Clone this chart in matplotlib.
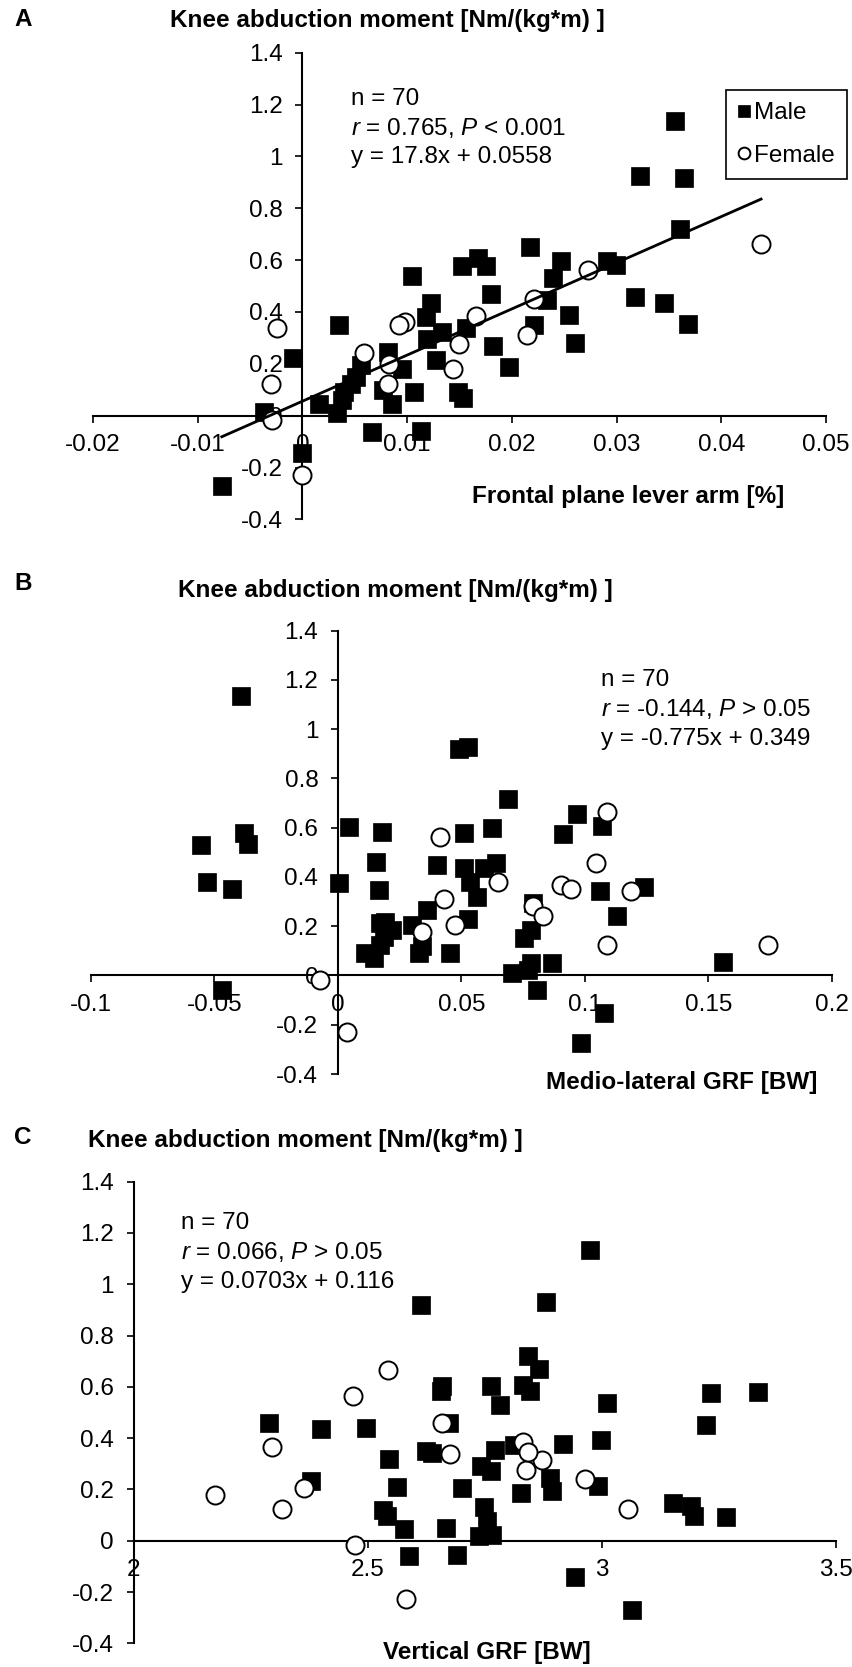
import numpy as np
import matplotlib.pyplot as plt
from matplotlib.ticker import FuncFormatter

plt.rcParams['font.family'] = ['Liberation Sans', 'DejaVu Sans']
plt.rcParams['axes.unicode_minus'] = False
plt.rcParams['mathtext.fontset'] = 'custom'
plt.rcParams['mathtext.it'] = 'Liberation Sans:italic'
plt.rcParams['mathtext.rm'] = 'Liberation Sans'

# ---- data ----
# A: frontal plane lever arm vs knee abduction moment
a_male_x = [0.0356, 0.0322, 0.0364, 0.0361, 0.0217, 0.0247, 0.0291, 0.0299, 0.0152, 0.0168,
            0.0175, 0.0105, 0.0239, 0.0180, 0.0318, 0.0345, 0.0368, 0.0255, 0.0260, 0.0234,
            0.0221, 0.0197, 0.0182, 0.0156, 0.0149, 0.0153, 0.0128, 0.0133, 0.0119, 0.0123,
            0.0118, 0.0107, 0.0113, 0.0082, 0.0095, 0.0077, 0.0086, 0.0066, 0.0056, 0.0051,
            0.0046, 0.0040, 0.0038, 0.0033, 0.0035, 0.0016, 0.0000, -0.0009, -0.0037, -0.0077]
a_male_y = [1.135, 0.926, 0.917, 0.720, 0.651, 0.596, 0.596, 0.583, 0.577, 0.609,
            0.577, 0.540, 0.530, 0.468, 0.458, 0.436, 0.355, 0.387, 0.281, 0.447,
            0.349, 0.186, 0.268, 0.340, 0.092, 0.067, 0.214, 0.323, 0.297, 0.435,
            0.381, 0.092, -0.058, 0.246, 0.182, 0.099, 0.044, -0.062, 0.195, 0.150,
            0.124, 0.092, 0.060, 0.009, 0.349, 0.044, -0.145, 0.224, 0.015, -0.270]
a_female_x = [0.0438, 0.0273, 0.0221, 0.0214, 0.0166, 0.0150, 0.0144, 0.0098, 0.0092, 0.0083,
              0.0082, 0.0059, 0.0000, -0.0024, -0.0030, -0.0029]
a_female_y = [0.663, 0.560, 0.451, 0.310, 0.383, 0.276, 0.181, 0.362, 0.349, 0.201,
              0.124, 0.240, -0.228, 0.340, 0.124, -0.017]

# B: medio-lateral GRF vs knee abduction moment
b_male_x = [-0.0393, 0.0492, 0.0525, 0.0690, 0.0970, -0.0552, -0.0380, -0.0364, -0.0530, -0.0430,
            -0.0468, 0.0003, 0.0046, 0.0180, 0.0155, 0.0165, 0.0169, 0.0192, 0.0219, 0.0185,
            0.0172, 0.0111, 0.0145, 0.0300, 0.0361, 0.0327, 0.0340, 0.0453, 0.0401, 0.0510,
            0.0510, 0.0534, 0.0564, 0.0526, 0.0624, 0.0590, 0.0640, 0.0911, 0.1070, 0.1060,
            0.1240, 0.1130, 0.1077, 0.0986, 0.1560, 0.0867, 0.0783, 0.0768, 0.0706, 0.0805,
            0.0755, 0.0783, 0.0790]
b_male_y = [1.133, 0.921, 0.928, 0.715, 0.655, 0.529, 0.580, 0.532, 0.379, 0.349,
            -0.058, 0.374, 0.604, 0.584, 0.462, 0.347, 0.212, 0.219, 0.185, 0.158,
            0.124, 0.091, 0.070, 0.205, 0.266, 0.091, 0.118, 0.093, 0.449, 0.577,
            0.435, 0.381, 0.320, 0.228, 0.597, 0.435, 0.455, 0.573, 0.607, 0.342,
            0.360, 0.243, -0.153, -0.273, 0.053, 0.050, 0.050, 0.023, 0.010, -0.058,
            0.152, 0.186, 0.295]
b_female_x = [0.1090, -0.0074, 0.0415, 0.1043, 0.1187, 0.0904, 0.0944, 0.1090, 0.1740, 0.0790,
              0.0832, 0.0650, 0.0476, 0.0431, 0.0340, 0.0039]
b_female_y = [0.665, -0.020, 0.564, 0.457, 0.342, 0.369, 0.349, 0.125, 0.125, 0.281,
              0.243, 0.380, 0.205, 0.311, 0.178, -0.231]

# C: vertical GRF vs knee abduction moment
c_male_x = [2.975, 2.614, 2.881, 2.842, 2.866, 2.659, 2.657, 2.763, 2.831, 2.846,
            2.782, 3.012, 3.234, 3.334, 3.223, 2.290, 2.401, 2.497, 2.673, 2.546,
            2.638, 2.918, 2.998, 2.772, 2.813, 2.743, 2.763, 2.378, 2.562, 2.702,
            2.532, 2.541, 2.577, 2.667, 2.589, 2.690, 2.749, 2.755, 2.737, 2.766,
            2.828, 2.889, 2.893, 2.992, 2.942, 3.065, 3.152, 3.190, 3.197, 3.266,
            2.625]
c_male_y = [1.134, 0.921, 0.930, 0.720, 0.668, 0.603, 0.585, 0.603, 0.609, 0.583,
            0.531, 0.538, 0.577, 0.580, 0.453, 0.459, 0.436, 0.440, 0.459, 0.319,
            0.342, 0.379, 0.394, 0.355, 0.375, 0.290, 0.271, 0.232, 0.210, 0.206,
            0.121, 0.095, 0.046, 0.049, -0.059, -0.055, 0.130, 0.075, 0.017, 0.021,
            0.186, 0.245, 0.193, 0.212, -0.142, -0.269, 0.147, 0.137, 0.095, 0.091,
            0.350]
c_female_x = [2.544, 2.468, 2.659, 2.296, 2.675, 2.831, 2.839, 2.872, 2.843, 2.363,
              2.173, 2.318, 2.474, 2.581, 2.963, 3.055]
c_female_y = [0.665, 0.566, 0.459, 0.364, 0.340, 0.384, 0.277, 0.314, 0.345, 0.206,
              0.180, 0.124, -0.018, -0.228, 0.241, 0.124]

a_slope, a_icpt = 17.8, 0.0558

title = 'Knee abduction moment [Nm/(kg*m) ]'

W, H = 853, 1667
FS = 17.5

fig = plt.figure(figsize=(W / 100, H / 100), dpi=100)


def fx(px):
    return px / W


def fy(py):
    return 1 - py / H


def panel(left, right, top, bottom, xlim, xstep, ycross):
    ax = fig.add_axes([fx(left), fy(bottom), (right - left) / W, (bottom - top) / H])
    ax.set_xlim(*xlim)
    ax.set_ylim(-0.4, 1.4)
    ax.patch.set_visible(False)
    ax.spines['top'].set_visible(False)
    ax.spines['right'].set_visible(False)
    ax.spines['left'].set_position(('data', ycross))
    ax.spines['bottom'].set_position(('data', 0))
    for s in ('left', 'bottom'):
        ax.spines[s].set_linewidth(1.5)
    ax.set_xticks(np.round(np.arange(xlim[0], xlim[1] + xstep / 2, xstep), 4))
    ax.set_yticks(np.round(np.arange(-0.4, 1.41, 0.2), 1))
    fmt = FuncFormatter(lambda v, p: '%g' % v)
    ax.xaxis.set_major_formatter(fmt)
    ax.yaxis.set_major_formatter(fmt)
    ax.tick_params(axis='both', direction='out', length=5, width=1.2, labelsize=FS)
    ax.tick_params(axis='y', pad=9)
    ax.tick_params(axis='x', pad=8)
    return ax


def draw_points(ax, mx, my, fx_, fy_):
    ax.plot(mx, my, 's', ms=12.5, mfc='black', mec='black', mew=0.5, clip_on=False, zorder=3)
    ax.plot(fx_, fy_, 'o', ms=13, mfc='white', mec='black', mew=1.4, clip_on=False, zorder=4)


# ---- A ----
axA = panel(93, 826, 52.7, 519.4, (-0.02, 0.05), 0.01, 0)
draw_points(axA, a_male_x, a_male_y, a_female_x, a_female_y)
xs = np.array(a_male_x + a_female_x)
lx = np.array([xs.min(), xs.max()])
axA.plot(lx, a_slope * lx + a_icpt, color='black', lw=2, zorder=5)
leg = axA.legend(['Male', 'Female'], loc='upper right', bbox_to_anchor=(fx(847), fy(90)),
                 bbox_transform=fig.transFigure, fancybox=False, edgecolor='black', framealpha=1,
                 borderaxespad=0, handlelength=0.5, handletextpad=0.15, borderpad=0.5,
                 labelspacing=0.85, markerscale=0.65, fontsize=FS)
leg.get_frame().set_linewidth(1.2)

fig.text(fx(14), fy(20), 'A', fontsize=FS, fontweight='bold', va='center')
fig.text(fx(170), fy(21), title, fontsize=FS, fontweight='bold', va='center')
fig.text(fx(351), fy(99), 'n = 70', fontsize=FS, va='center')
fig.text(fx(351), fy(128), r'$r$ = 0.765, $P$ < 0.001', fontsize=FS, va='center')
fig.text(fx(351), fy(157), 'y = 17.8x + 0.0558', fontsize=FS, va='center')
fig.text(fx(628), fy(497), 'Frontal plane lever arm [%]', fontsize=FS, fontweight='bold',
         ha='center', va='center')

# ---- B ----
axB = panel(90.7, 832, 630.6, 1074, (-0.1, 0.2), 0.05, 0)
draw_points(axB, b_male_x, b_male_y, b_female_x, b_female_y)
fig.text(fx(14), fy(583), 'B', fontsize=FS, fontweight='bold', va='center')
fig.text(fx(178), fy(590), title, fontsize=FS, fontweight='bold', va='center')
fig.text(fx(601), fy(680), 'n = 70', fontsize=FS, va='center')
fig.text(fx(601), fy(709), r'$r$ = -0.144, $P$ > 0.05', fontsize=FS, va='center')
fig.text(fx(601), fy(739), 'y = -0.775x + 0.349', fontsize=FS, va='center')
fig.text(fx(817), fy(1082), 'Medio-lateral GRF [BW]', fontsize=FS, fontweight='bold',
         ha='right', va='center')

# ---- C ----
axC = panel(133.5, 836, 1181.7, 1643.3, (2, 3.5), 0.5, 2)
draw_points(axC, c_male_x, c_male_y, c_female_x, c_female_y)
fig.text(fx(14), fy(1137), 'C', fontsize=FS, fontweight='bold', va='center')
fig.text(fx(88), fy(1140), title, fontsize=FS, fontweight='bold', va='center')
fig.text(fx(181), fy(1223), 'n = 70', fontsize=FS, va='center')
fig.text(fx(181), fy(1252), r'$r$ = 0.066, $P$ > 0.05', fontsize=FS, va='center')
fig.text(fx(181), fy(1282), 'y = 0.0703x + 0.116', fontsize=FS, va='center')
fig.text(fx(487), fy(1652), 'Vertical GRF [BW]', fontsize=FS, fontweight='bold',
         ha='center', va='center')

fig.savefig('out.png', dpi=100)
